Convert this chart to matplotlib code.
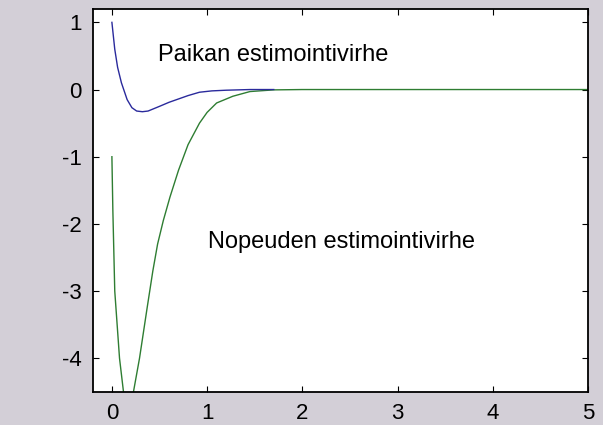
import numpy as np
import matplotlib.pyplot as plt

# position estimation error (blue)
pos_t = [0.0, 0.03, 0.06, 0.1, 0.16, 0.21, 0.26, 0.32, 0.38, 0.5, 0.6, 0.68, 0.8, 0.92, 1.05, 1.2, 1.45, 1.7]
pos_err = [1.0, 0.6, 0.33, 0.1, -0.15, -0.27, -0.32, -0.33, -0.32, -0.25, -0.19, -0.15, -0.09, -0.04, -0.02, -0.01, 0.0, 0.0]

# velocity estimation error (green)
vel_t = [0.0, 0.01, 0.03, 0.08, 0.13, 0.18, 0.22, 0.29, 0.37, 0.43, 0.48, 0.54, 0.61, 0.7, 0.8, 0.92, 1.0, 1.1, 1.27, 1.45, 1.7, 2.0, 3.0, 4.0, 5.0]
vel_err = [-1.0, -1.8, -3.0, -4.0, -4.6, -4.75, -4.55, -4.0, -3.25, -2.7, -2.3, -1.95, -1.6, -1.2, -0.82, -0.5, -0.34, -0.2, -0.1, -0.03, -0.005, 0.0, 0.0, 0.0, 0.0]

label_pos = 'Paikan estimointivirhe'
label_vel = 'Nopeuden estimointivirhe'


def main():
    plt.rcParams['axes.unicode_minus'] = False
    bg = '#d3cfd7'
    fig = plt.figure(figsize = (6.03, 4.25), dpi = 100, facecolor = bg)
    ax = fig.add_axes([0.154, 0.078, 0.821, 0.901])
    ax.set_facecolor('white')

    ax.plot(vel_t, vel_err, color = '#2e7d32', lw = 1.0)
    ax.plot(pos_t, pos_err, color = '#2a2a9c', lw = 1.0)

    ax.set_xlim(-0.2, 5)
    ax.set_ylim(-4.5, 1.2)
    ax.set_xticks([0, 1, 2, 3, 4, 5])
    ax.set_yticks([-4, -3, -2, -1, 0, 1])
    ax.tick_params(direction = 'in', top = True, right = True, length = 4, labelsize = 16, pad = 8)
    for lab in ax.get_xticklabels() + ax.get_yticklabels():
        lab.set_family('Liberation Sans')
    for sp in ax.spines.values():
        sp.set_linewidth(1.3)

    ax.text(0.483, 0.42, label_pos, fontsize = 17, family = 'Liberation Sans', va = 'baseline')
    ax.text(1.01, -2.36, label_vel, fontsize = 17, family = 'Liberation Sans', va = 'baseline')

    fig.savefig('out.png', dpi = 100, facecolor = bg)
    plt.close(fig)


if __name__ == "__main__":
    main()
